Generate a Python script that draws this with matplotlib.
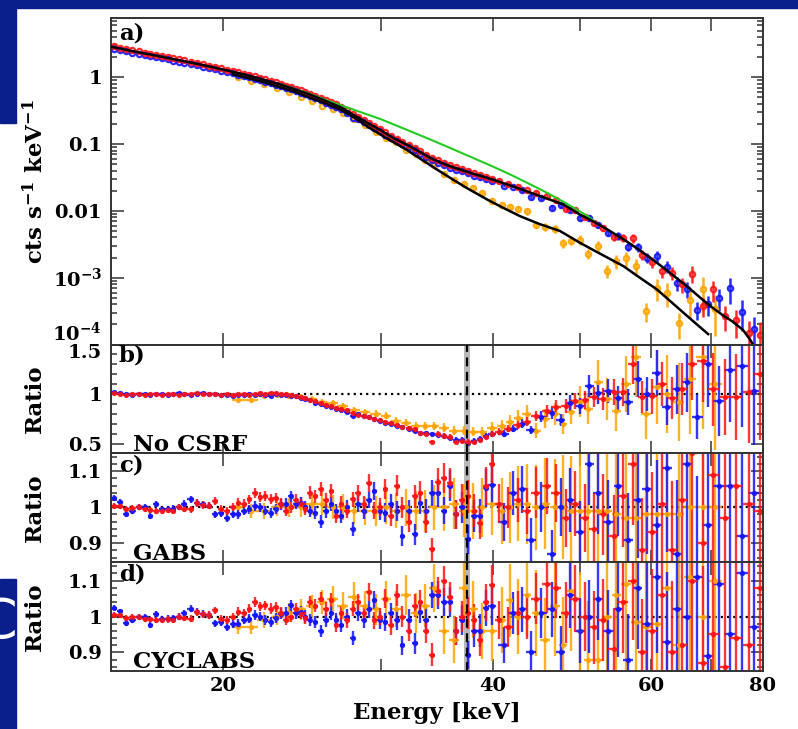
import numpy as np
import matplotlib
matplotlib.use('Agg')
import matplotlib.pyplot as plt
from matplotlib.patches import Rectangle
from matplotlib.ticker import (FixedLocator, NullLocator, MultipleLocator,
                               LogLocator, NullFormatter, FuncFormatter)

# ---------------- data ----------------
# shared low-energy binning of the two red/blue spectra (keV)
e_lo = [15.1, 15.35, 15.6, 15.85, 16.1, 16.35, 16.6, 16.85,
        17.1, 17.35, 17.6, 17.85, 18.1, 18.4, 18.7,
        19.0, 19.3, 19.6, 19.9, 20.2, 20.5, 20.8,
        21.1, 21.4, 21.7, 22.0, 22.3, 22.6, 22.9, 23.2,
        23.5, 23.8, 24.1, 24.4, 24.7, 25.0, 25.35, 25.7, 26.05,
        26.4, 26.75, 27.1, 27.5, 27.9, 28.3, 28.7, 29.1,
        29.5, 29.9, 30.35, 30.8, 31.25, 31.7, 32.2,
        32.7, 33.2, 33.7, 34.2, 34.7, 35.25,
        35.8, 36.35, 36.9, 37.5, 38.1, 38.7, 39.3, 39.9]
e_red = e_lo + [40.6, 41.6, 42.6, 43.6, 44.7, 45.9, 47.0, 48.2, 49.4, 50.6,
                51.8, 53.1, 54.5, 55.9, 57.3, 58.7, 60.2, 61.7, 63.3, 65.0,
                66.7, 68.5, 70.4, 72.5, 74.7, 77.2, 79.3]
e_blue = e_lo + [41.1, 42.1, 43.1, 44.1, 45.3, 46.5, 47.6, 48.8, 50.0, 51.2,
                 52.4, 53.8, 55.2, 56.6, 58.0, 59.4, 60.9, 62.5, 64.1, 65.8,
                 67.6, 69.4, 71.4, 73.5, 75.8, 78.1]
e_orange = [20.8, 21.5, 22.2, 23.0, 23.7, 24.4, 25.1, 25.8, 26.5, 27.2,
            28.0, 28.8, 29.6, 30.4, 31.2, 32.0, 32.8, 33.6, 34.4, 35.3,
            36.2, 37.1, 38.0, 38.9, 39.9, 40.9, 41.8, 42.7, 43.6, 44.7,
            45.7, 46.9, 47.9, 48.9, 50.0, 51.1, 52.4, 53.6, 54.9, 56.3,
            57.8, 59.3, 60.9, 62.6, 64.4, 66.4, 68.5, 70.8]

# count spectra (cts/s/keV)
flux_red = [2.894, 2.771, 2.651, 2.538, 2.434, 2.339, 2.248, 2.162,
            2.080, 2.001, 1.927, 1.854, 1.786, 1.710, 1.636,
            1.566, 1.494, 1.426, 1.361, 1.300, 1.243, 1.189,
            1.135, 1.079, 1.028, 0.979, 0.929, 0.883, 0.838, 0.794,
            0.751, 0.711, 0.672, 0.635, 0.599, 0.567, 0.526, 0.488, 0.453,
            0.421, 0.391, 0.361, 0.321, 0.286, 0.256, 0.229, 0.206,
            0.186, 0.169, 0.150, 0.133, 0.119, 0.109, 0.0974,
            0.0871, 0.0777, 0.0690, 0.0622, 0.0570, 0.0522,
            0.0482, 0.0450, 0.0422, 0.0393, 0.0367, 0.0345, 0.0324, 0.0305,
            0.0282, 0.0253, 0.0231, 0.0203, 0.0185, 0.0166, 0.0146, 0.0108,
            0.0102, 0.0081, 0.0066, 0.0056, 0.0040, 0.0039, 0.0039, 0.0022,
            0.0017, 0.00125, 0.00117, 0.00080, 0.00115, 0.00038, 0.00067,
            0.00027, 0.00023, 0.00015, 0.00014]
flux_blue = [2.670, 2.556, 2.445, 2.341, 2.245, 2.157, 2.074, 1.994,
             1.918, 1.846, 1.777, 1.710, 1.647, 1.577, 1.509,
             1.444, 1.378, 1.315, 1.255, 1.199, 1.147, 1.096,
             1.047, 0.996, 0.948, 0.903, 0.857, 0.814, 0.773, 0.732,
             0.693, 0.656, 0.620, 0.586, 0.553, 0.523, 0.485, 0.450, 0.418,
             0.389, 0.361, 0.333, 0.296, 0.248, 0.236, 0.211, 0.190,
             0.172, 0.156, 0.138, 0.122, 0.110, 0.100, 0.0899,
             0.0804, 0.0716, 0.0637, 0.0574, 0.0525, 0.0482,
             0.0445, 0.0415, 0.0390, 0.0363, 0.0338, 0.0318, 0.0299, 0.0281,
             0.0237, 0.0230, 0.0207, 0.0161, 0.0156, 0.0112, 0.0122, 0.0104,
             0.0078, 0.0079, 0.0062, 0.0047, 0.0042, 0.0029, 0.0029, 0.0020,
             0.0021, 0.00147, 0.00084, 0.00067, 0.00033, 0.00040, 0.00050,
             0.00070, 0.00031, 0.00017]
flux_orange = [1.02, 0.88, 0.786, 0.685, 0.60, 0.513, 0.443, 0.377, 0.33, 0.29,
               0.235, 0.194, 0.154, 0.125, 0.108, 0.082, 0.070, 0.058, 0.048, 0.036,
               0.0285, 0.0255, 0.0220, 0.0185, 0.0142, 0.0122, 0.0115, 0.0108, 0.0099, 0.0062,
               0.0058, 0.0054, 0.0033, 0.0036, 0.0037, 0.0023, 0.0030, 0.00125, 0.00175, 0.00195,
               0.0015, 0.00032, 0.00070, 0.00060, 0.00021, 0.00047, 0.00067, 0.00034]

# fractional 1-sigma uncertainties
err_lo = [0.008, 0.008, 0.008, 0.008, 0.008, 0.008, 0.008, 0.008,
          0.008, 0.009, 0.009, 0.009, 0.009, 0.009, 0.010,
          0.010, 0.010, 0.010, 0.011, 0.011, 0.011, 0.012,
          0.012, 0.012, 0.013, 0.013, 0.013, 0.014, 0.014, 0.015,
          0.015, 0.015, 0.016, 0.016, 0.017, 0.017, 0.018, 0.018, 0.019,
          0.019, 0.020, 0.020, 0.021, 0.021, 0.022, 0.022, 0.023,
          0.024, 0.025, 0.026, 0.027, 0.028, 0.029, 0.030,
          0.031, 0.032, 0.034, 0.035, 0.037, 0.038,
          0.040, 0.041, 0.043, 0.044, 0.046, 0.048, 0.050, 0.052]
err_red = err_lo + [0.054, 0.057, 0.060, 0.064, 0.068, 0.073, 0.078, 0.084, 0.090,
                    0.097, 0.105, 0.115, 0.125, 0.137, 0.150, 0.165, 0.180, 0.20,
                    0.22, 0.25, 0.28, 0.31, 0.35, 0.40, 0.45, 0.50, 0.55]
err_blue = err_lo + [0.055, 0.058, 0.062, 0.066, 0.070, 0.076, 0.081, 0.087, 0.094,
                     0.101, 0.110, 0.120, 0.131, 0.143, 0.157, 0.172, 0.19, 0.21,
                     0.235, 0.265, 0.295, 0.33, 0.375, 0.42, 0.48, 0.53]
err_orange = [0.020, 0.020, 0.022, 0.024, 0.026, 0.028, 0.030, 0.032, 0.034, 0.036,
              0.038, 0.040, 0.043, 0.046, 0.049, 0.052, 0.055, 0.058, 0.062, 0.066,
              0.070, 0.074, 0.078, 0.082, 0.087, 0.092, 0.098, 0.104, 0.110, 0.118,
              0.126, 0.135, 0.145, 0.155, 0.17, 0.185, 0.20, 0.22, 0.24, 0.26,
              0.29, 0.32, 0.35, 0.39, 0.43, 0.48, 0.53, 0.60]

# data/model ratios: no CSRF (b), GABS (c), CYCLABS (d)
nocsrf_red = [1.01, 1.00, 0.99, 1.00, 1.00, 0.99, 1.00, 1.00,
              0.99, 1.00, 1.00, 0.99, 1.00, 1.00, 1.01,
              1.00, 1.00, 1.00, 0.99, 1.00, 0.99, 1.00,
              1.00, 0.99, 1.00, 1.01, 1.00, 1.01, 1.01, 1.00,
              1.00, 0.99, 0.98, 0.97, 0.96, 0.94, 0.93, 0.91, 0.89,
              0.88, 0.86, 0.85, 0.84, 0.81, 0.79, 0.78, 0.77,
              0.75, 0.74, 0.72, 0.71, 0.69, 0.67, 0.66,
              0.65, 0.61, 0.60, 0.52, 0.60, 0.58,
              0.57, 0.52, 0.53, 0.52, 0.52, 0.54, 0.57, 0.60,
              0.62, 0.65, 0.69, 0.72, 0.78, 0.83, 0.87, 0.88, 0.93, 0.94,
              0.97, 0.95, 1.02, 1.02, 1.30, 0.97, 0.98, 1.10, 0.96, 1.05,
              1.30, 1.33, 1.05, 0.97, 0.97, 1.02, 1.20]
nocsrf_blue = [1.02, 1.01, 1.00, 0.99, 1.00, 1.00, 0.99, 1.00,
               1.00, 0.99, 1.00, 1.01, 1.00, 0.99, 1.00,
               1.01, 1.00, 1.00, 0.99, 0.99, 0.98, 0.99,
               0.99, 1.00, 0.99, 1.00, 0.99, 0.98, 1.00, 0.99,
               0.99, 0.98, 0.98, 0.96, 0.95, 0.94, 0.91, 0.90, 0.88,
               0.87, 0.85, 0.84, 0.82, 0.78, 0.80, 0.78, 0.77,
               0.75, 0.73, 0.71, 0.70, 0.68, 0.67, 0.65,
               0.63, 0.61, 0.61, 0.60, 0.59, 0.58,
               0.56, 0.54, 0.54, 0.51, 0.53, 0.55, 0.58, 0.60,
               0.60, 0.65, 0.70, 0.64, 0.77, 0.81, 0.74, 0.91, 0.88, 1.08,
               1.01, 1.03, 0.96, 0.92, 1.15, 1.00, 1.21, 0.87, 1.05, 1.12,
               0.77, 1.30, 0.93, 1.24, 1.28, 1.03]
nocsrf_orange = [0.94, 0.94, 0.98, 0.99, 0.98, 0.97, 0.95, 0.92, 0.91, 0.88,
                 0.84, 0.82, 0.80, 0.78, 0.73, 0.71, 0.68, 0.68, 0.68, 0.66,
                 0.63, 0.63, 0.62, 0.62, 0.66, 0.68, 0.72, 0.76, 0.80, 0.63,
                 0.75, 0.80, 0.70, 0.82, 0.92, 0.85, 1.12, 0.95, 0.83, 1.10,
                 1.37, 0.80, 1.07, 1.00, 0.92, 1.15, 1.37, 1.10]

gabs_red = [1.004, 1.004, 0.996, 0.998, 1.000, 0.994, 0.992, 0.990,
            0.990, 0.992, 0.990, 1.000, 0.996, 0.994, 1.012,
            1.006, 1.004, 1.017, 0.994, 0.990, 1.000, 1.013,
            1.010, 1.022, 1.040, 1.028, 1.031, 1.022, 1.026, 1.010,
            0.990, 1.000, 1.020, 1.008, 0.995, 1.040, 1.030, 1.050, 1.020,
            1.045, 0.976, 1.010, 0.990, 1.022, 1.040, 1.010, 1.068,
            0.990, 1.000, 1.050, 0.975, 1.060, 1.000, 0.960,
            1.030, 1.040, 0.960, 0.883, 1.070, 1.082,
            1.067, 0.980, 1.020, 1.030, 0.990, 0.957, 1.060, 1.120,
            1.01, 1.00, 1.02, 0.99, 1.04, 1.06, 1.04, 0.97, 1.01, 0.97,
            0.94, 0.98, 0.92, 1.03, 1.12, 0.88, 0.93, 1.01, 0.88, 1.02,
            1.15, 0.90, 1.09, 0.97, 1.06, 1.01, 0.99]
gabs_blue = [1.025, 1.014, 0.981, 0.990, 1.000, 1.000, 0.976, 1.008,
             0.994, 0.994, 0.996, 1.000, 1.010, 1.022, 1.013,
             1.008, 1.004, 0.981, 0.985, 0.971, 0.980, 0.980,
             0.990, 0.994, 1.004, 1.000, 0.990, 0.985, 0.995, 1.008,
             1.010, 1.031, 1.010, 1.013, 1.000, 0.990, 0.985, 0.960, 0.990,
             1.010, 0.990, 0.976, 1.000, 0.939, 1.010, 0.990, 1.020,
             1.045, 0.990, 0.985, 1.010, 0.990, 0.920, 0.990,
             0.925, 1.013, 0.990, 1.040, 1.040, 0.990,
             1.060, 0.980, 1.000, 0.911, 0.976, 0.976, 1.054, 1.063,
             0.96, 1.04, 1.05, 0.91, 1.00, 0.87, 1.00, 1.02, 0.93, 1.12,
             1.04, 0.96, 1.06, 0.91, 1.02, 1.05, 0.95, 1.11, 0.87, 1.12,
             0.84, 0.95, 1.06, 1.06, 0.92, 1.04]
gabs_orange = [1.00, 0.99, 0.99, 1.00, 1.00, 1.00, 1.01, 1.01, 1.00, 1.00,
               0.99, 0.99, 0.99, 1.00, 0.99, 1.00, 0.99, 0.99, 1.00, 1.00,
               1.01, 0.99, 0.99, 1.00, 1.01, 0.99, 1.00, 1.01, 1.01, 1.00,
               1.01, 1.00, 1.00, 0.99, 0.99, 0.99, 0.99, 0.99, 0.98, 0.97,
               0.97, 0.98, 0.98, 0.98, 0.98, 1.00, 1.00, 1.00]

cyclabs_red = [1.004, 1.004, 0.996, 0.998, 1.000, 0.994, 0.992, 0.990,
               0.990, 0.992, 0.990, 1.000, 0.996, 0.994, 1.012,
               1.006, 1.004, 1.017, 0.994, 0.990, 1.000, 1.013,
               1.010, 1.022, 1.040, 1.028, 1.031, 1.022, 1.026, 1.010,
               0.990, 1.000, 1.020, 1.008, 0.995, 1.040, 1.030, 1.050, 1.020,
               1.045, 0.976, 1.010, 0.990, 1.022, 1.040, 1.010, 1.068,
               0.990, 1.000, 1.050, 0.975, 1.060, 1.000, 0.960,
               1.030, 1.040, 0.960, 0.894, 1.070, 1.100,
               1.055, 0.960, 1.000, 1.010, 0.990, 0.935, 1.040, 1.088,
               0.99, 0.97, 1.01, 1.00, 1.05, 1.09, 1.08, 1.01, 1.05, 1.00,
               0.97, 0.99, 0.91, 1.04, 1.10, 0.90, 0.96, 1.06, 0.90, 0.92,
               1.10, 0.87, 0.95, 0.86, 0.94, 0.92, 1.08]
cyclabs_blue = [1.025, 1.014, 0.981, 0.990, 1.000, 1.000, 0.976, 1.008,
                0.994, 0.994, 0.996, 1.000, 1.010, 1.022, 1.013,
                1.008, 1.004, 0.981, 0.985, 0.971, 0.980, 0.980,
                0.990, 0.994, 1.004, 1.000, 0.990, 0.985, 0.995, 1.008,
                1.010, 1.031, 1.010, 1.013, 1.000, 0.990, 0.985, 0.960, 0.990,
                1.010, 0.990, 0.976, 1.000, 0.939, 1.010, 0.990, 1.020,
                1.045, 0.990, 0.985, 1.010, 0.990, 0.920, 0.990,
                0.925, 1.013, 0.990, 1.060, 1.060, 1.040,
                1.040, 0.960, 0.990, 0.892, 0.960, 0.960, 1.024, 1.030,
                0.92, 1.01, 1.02, 0.90, 1.01, 1.02, 0.90, 1.06, 0.96, 1.00,
                1.05, 0.96, 1.02, 0.88, 1.08, 0.98, 1.11, 0.93, 1.02, 1.00,
                1.11, 0.89, 1.09, 0.95, 1.12, 0.97]
cyclabs_orange = [0.97, 0.97, 0.99, 1.00, 1.01, 1.02, 1.03, 1.04, 1.05, 1.03,
                  1.055, 1.03, 1.02, 1.05, 1.02, 1.06, 1.01, 1.03, 1.08, 0.96,
                  0.935, 1.08, 1.02, 0.96, 0.96, 0.99, 1.045, 1.00, 1.06, 1.01,
                  0.935, 1.03, 0.92, 1.07, 0.96, 0.88, 0.88, 1.00, 1.06, 1.09,
                  0.985, 0.97, 0.98, 1.08, 0.92, 1.11, 1.00, 1.10]

# best-fit model curves
mod_e = [15, 16, 17, 18, 19, 20, 21, 22, 23, 24, 25, 26, 27, 28, 29, 30, 31, 32,
         33, 34, 35, 36, 37, 38, 39, 40, 42, 44, 46, 48, 50, 52, 54, 56, 58, 60,
         62, 64, 66, 68, 70, 72, 74, 76, 77.5, 78.5]
mod_flux = [2.86, 2.40, 2.05, 1.76, 1.52, 1.30, 1.12, 0.95, 0.80, 0.665, 0.55,
            0.445, 0.36, 0.27, 0.205, 0.16, 0.122, 0.099, 0.079, 0.0625, 0.0525,
            0.0455, 0.0405, 0.036, 0.0325, 0.0293, 0.0235, 0.0188, 0.0152, 0.0123,
            0.0088, 0.0067, 0.0050, 0.0037, 0.0027, 0.00195, 0.0014, 0.0010,
            0.00072, 0.00051, 0.00037, 0.00028, 0.00022, 0.000165, 0.000115, 0.000085]
mod2_e = [20.5, 22.0, 24.0, 26.0, 27.0, 28.0, 29.0, 30.4, 32.0, 33.2, 34.5, 36.1,
          37.5, 39.4, 41.0, 42.9, 45.0, 47.5, 50.0, 52.0, 55.9, 58.0, 60.9, 63.0,
          65.2, 67.5, 69.5]
mod2_flux = [1.11, 0.875, 0.61, 0.405, 0.33, 0.25, 0.182, 0.123, 0.083, 0.060,
             0.043, 0.0293, 0.0215, 0.0148, 0.0112, 0.0083, 0.0064, 0.0050,
             0.00333, 0.0025, 0.00149, 0.00105, 0.00067, 0.00045, 0.00030,
             0.000200, 0.000143]
# continuum without the cyclotron line
green_e = [23, 24, 25, 26, 27, 28, 30, 32, 34, 36, 38, 40, 42, 44, 46, 48, 50,
           51, 52]
green_flux = [0.80, 0.672, 0.562, 0.46, 0.385, 0.325, 0.235, 0.165, 0.118,
              0.085, 0.062, 0.046, 0.034, 0.025, 0.0185, 0.0135, 0.0098,
              0.0083, 0.0068]

e_line, e_line_width = 37.4, 0.3

# ---------------- figure ----------------
plt.rcParams['font.family'] = 'DejaVu Serif'
plt.rcParams['font.weight'] = 'bold'
plt.rcParams['axes.labelweight'] = 'bold'
plt.rcParams['mathtext.fontset'] = 'dejavuserif'
plt.rcParams['mathtext.default'] = 'bf'

W, H = 798, 729
fig = plt.figure(figsize=(W / 100, H / 100), dpi=100)

slide_blue = '#0a1e8c'
for x0, y0, w, h in [(0, 0, W, 8), (0, 0, 16, 123), (0, 579, 16, 150)]:
    fig.add_artist(Rectangle((x0 / W, 1 - (y0 + h) / H), w / W, h / H,
                             transform=fig.transFigure, color=slide_blue,
                             zorder=-5))
fig.text(-2 / W, 1 - 623 / H, 'C', color='white', fontsize=40,
         family='DejaVu Sans', fontweight='normal', ha='center', va='center')


def px_axes(top, bottom, **kw):
    left, right = 111, 763
    return fig.add_axes([left / W, 1 - bottom / H, (right - left) / W,
                         (bottom - top) / H], **kw)


ax_a = px_axes(18, 344.5)
ax_b = px_axes(344.5, 452.5, sharex=ax_a)
ax_c = px_axes(452.5, 562, sharex=ax_a)
ax_d = px_axes(562, 671, sharex=ax_a)

RED, BLUE, ORANGE = '#ff1414', '#1414ff', '#ffa500'
edge = '#333333'


def spectrum(ax, e, flux, err, color):
    flux = np.array(flux)
    up = flux * np.array(err)
    lo = np.minimum(up, flux * 0.97)
    ax.errorbar(e, flux, yerr=[lo, up], fmt='o', ms=3.8, mfc='none', mec=color,
                mew=1.6, ecolor=color, elinewidth=1.8, capsize=0, alpha=0.9,
                zorder=2)


def ratio(ax, e, r, err, color):
    e = np.array(e)
    r = np.array(r)
    ax.errorbar(e, r, yerr=r * np.array(err), xerr=np.gradient(e) / 2, fmt='o',
                ms=2.8, color=color, elinewidth=1.7, capsize=0, alpha=0.85,
                zorder=2)


# panel a: spectra and models
spectrum(ax_a, e_orange, flux_orange, err_orange, ORANGE)
spectrum(ax_a, e_blue, flux_blue, err_blue, BLUE)
spectrum(ax_a, e_red, flux_red, err_red, RED)
ax_a.plot(green_e, green_flux, color='#22cc22', lw=1.5, zorder=3)
ax_a.plot(mod_e, mod_flux, color='black', lw=1.8, zorder=4)
ax_a.plot(mod2_e, mod2_flux, color='black', lw=1.8, zorder=4)

# residual panels
for ax, rr, rb, ro in [(ax_b, nocsrf_red, nocsrf_blue, nocsrf_orange),
                       (ax_c, gabs_red, gabs_blue, gabs_orange),
                       (ax_d, cyclabs_red, cyclabs_blue, cyclabs_orange)]:
    ax.axvspan(e_line - e_line_width, e_line + e_line_width, color='#b8b8b8',
               lw=0, zorder=0.5)
    ax.axhline(1, color='black', ls=(0, (1, 1.8)), lw=1.6, zorder=1.5)
    ratio(ax, e_orange, ro, err_orange, ORANGE)
    ratio(ax, e_blue, rb, err_blue, BLUE)
    ratio(ax, e_red, rr, err_red, RED)
    ax.axvline(e_line, color='black', ls=(0, (4, 2.5)), lw=1.6, zorder=5)

# axes cosmetics
xt = [20, 30, 40, 50, 60, 70, 80]
for ax in [ax_a, ax_b, ax_c, ax_d]:
    ax.set_xscale('log')
    ax.set_xlim(15, 80)
    ax.xaxis.set_major_locator(FixedLocator(xt))
    ax.xaxis.set_minor_locator(NullLocator())
    ax.xaxis.set_major_formatter(
        FuncFormatter(lambda v, p: '%d' % v if v in (20, 40, 60, 80) else ''))
    ax.tick_params(which='both', direction='in', top=True, right=True,
                   color=edge, width=1.1, labelsize=14)
    ax.tick_params(which='major', length=9)
    ax.tick_params(which='minor', length=4.5)
    ax.tick_params(axis='y', pad=6.5)
    ax.tick_params(axis='x', pad=4)
    for s in ax.spines.values():
        s.set_color(edge)
        s.set_linewidth(1.4)
for ax in [ax_a, ax_b, ax_c]:
    ax.tick_params(labelbottom=False)

ax_a.set_yscale('log')
ax_a.set_ylim(1e-4, 7.7)
ax_a.set_yticks([1e-4, 1e-3, 0.01, 0.1, 1],
                ['10$^{-4}$', '10$^{-3}$', '0.01', '0.1', '1'])
ax_a.yaxis.set_minor_locator(LogLocator(base=10, subs=np.arange(2, 10)))
ax_a.yaxis.set_minor_formatter(NullFormatter())
ax_a.yaxis.get_major_ticks()[0].label1.set_verticalalignment('bottom')

ax_b.set_ylim(0.41, 1.5)
ax_b.set_yticks([0.5, 1, 1.5], ['0.5', '1', '1.5'])
ax_b.yaxis.set_minor_locator(MultipleLocator(0.1))
ax_b.yaxis.get_major_ticks()[2].label1.set_verticalalignment('top')

for ax in [ax_c, ax_d]:
    ax.set_ylim(0.848, 1.152)
    ax.set_yticks([0.9, 1, 1.1], ['0.9', '1', '1.1'])
    ax.yaxis.set_minor_locator(MultipleLocator(0.02))

# labels
ax_a.set_ylabel('cts s$^{-1}$ keV$^{-1}$', fontsize=16.5)
ax_a.yaxis.set_label_coords(-0.097, 0.5)
for ax in [ax_b, ax_c, ax_d]:
    ax.set_ylabel('Ratio', fontsize=16.5)
    ax.yaxis.set_label_coords(-0.1, 0.5)
ax_d.set_xlabel('Energy [keV]', fontsize=16.5)
ax_d.xaxis.set_label_coords(0.5, -0.28)

for ax, tag, y in [(ax_a, 'a)', 0.985), (ax_b, 'b)', 1.0), (ax_c, 'c)', 0.985),
                   (ax_d, 'd)', 0.985)]:
    ax.text(0.012, y, tag, transform=ax.transAxes, fontsize=16.5, ha='left',
            va='top', zorder=10)
for ax, name, y in [(ax_b, 'No CSRF', 0.01), (ax_c, 'GABS', 0.015),
                    (ax_d, 'CYCLABS', 0.025)]:
    ax.text(0.034, y, name, transform=ax.transAxes, fontsize=16.5, ha='left',
            va='baseline', zorder=10)

fig.savefig('out.png', dpi=100)
